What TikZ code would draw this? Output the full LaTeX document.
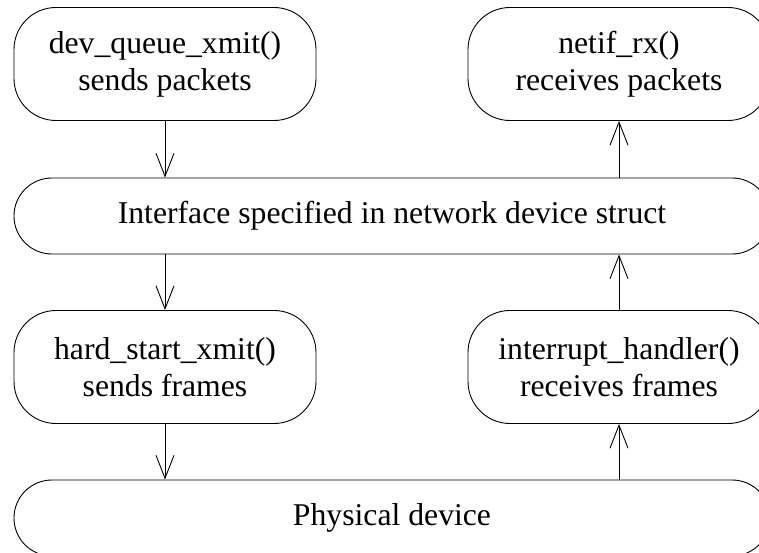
\documentclass[tikz,border=0pt]{standalone}
\usepackage{fontspec}
\setmainfont{Liberation Serif}
\usetikzlibrary{arrows.meta}
\begin{document}
\begin{tikzpicture}[x=1pt,y=1pt,
  box/.style={draw, line width=0.9pt, rectangle, align=center, inner sep=0pt,
    font=\fontsize{31.7}{37}\selectfont},
  small/.style={box, minimum width=302pt, minimum height=113pt, rounded corners=42pt},
  wide/.style={box, minimum width=756pt, minimum height=76pt, rounded corners=37.9pt},
  link/.style={line width=0.9pt, -{Straight Barb[length=23pt,width=18pt,line width=0.9pt]}}]
\clip (0,0) rectangle (759,-553);
\node[small] (A) at (165,-64) {dev\_queue\_xmit()\\sends packets};
\node[small] (B) at (619,-64) {netif\_rx()\\receives packets};
\node[wide]  (I) at (392,-216) {Interface specified in network device struct};
\node[small] (C) at (165,-367) {hard\_start\_xmit()\\sends frames};
\node[small] (D) at (619,-367) {interrupt\_handler()\\receives frames};
\node[wide]  (P) at (392,-518) {Physical device};
\draw[link] (A.south) -- (A.south |- I.north);
\draw[link] (B.south |- I.north) -- (B.south);
\draw[link] (C.north |- I.south) -- (C.north);
\draw[link] (D.north) -- (D.north |- I.south);
\draw[link] (C.south) -- (C.south |- P.north);
\draw[link] (D.south |- P.north) -- (D.south);
\end{tikzpicture}
\end{document}
